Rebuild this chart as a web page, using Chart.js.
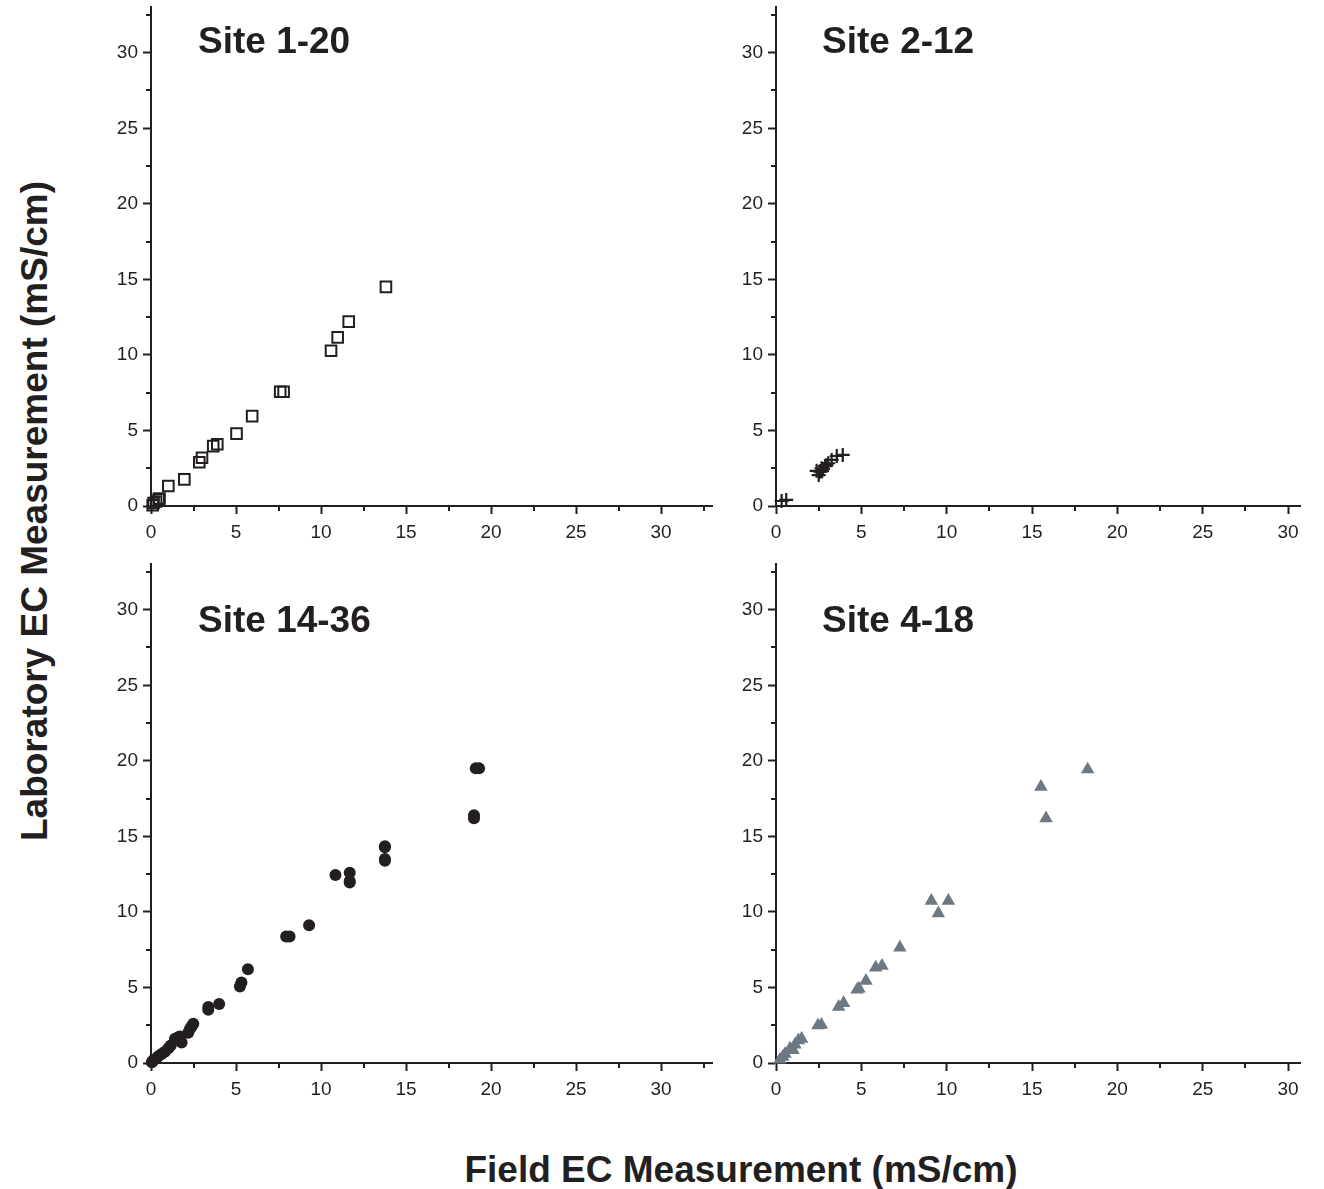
<!DOCTYPE html>
<html>
<head>
<meta charset="utf-8">
<script src="https://cdn.jsdelivr.net/npm/chart.js@4.4.1/dist/chart.umd.min.js"></script>
<style>
  html, body { margin: 0; padding: 0; background: #ffffff; }
  #wrap { position: relative; width: 1324px; height: 1189px; overflow: hidden; background: #fff; }
  canvas { position: absolute; }
  .lbl { position: absolute; font-family: "Liberation Sans", Arial, sans-serif; font-weight: bold; color: #231f20; white-space: nowrap; line-height: 37px; font-size: 37px; }
</style>
</head>
<body>
<div id="wrap">
  <canvas id="c1" width="640" height="569" style="left:90px;top:-9px;"></canvas>
  <canvas id="c2" width="609" height="569" style="left:715px;top:-9px;"></canvas>
  <canvas id="c3" width="640" height="568" style="left:90px;top:548px;"></canvas>
  <canvas id="c4" width="609" height="568" style="left:715px;top:548px;"></canvas>

  <div class="lbl" style="left:198px;top:22px;">Site 1-20</div>
  <div class="lbl" style="left:822px;top:22px;">Site 2-12</div>
  <div class="lbl" style="left:198px;top:601px;">Site 14-36</div>
  <div class="lbl" style="left:822px;top:601px;">Site 4-18</div>

  <div class="lbl" style="left:741px;top:1151px;transform:translateX(-50%);">Field EC Measurement (mS/cm)</div>
  <div class="lbl" style="left:34px;top:511px;transform:translate(-50%,-50%) rotate(-90deg);">Laboratory EC Measurement (mS/cm)</div>
</div>
<script>
// ---- Data ----
const site1_20_field = [0.1, 0.15, 0.3, 0.45, 0.5, 1.02, 1.96, 2.84, 3.0, 3.66, 3.9, 5.03, 5.95, 7.6, 7.8, 10.59, 10.98, 11.63, 13.82];
const site1_20_lab   = [0.05, 0.2, 0.3, 0.45, 0.5, 1.32, 1.76, 2.9, 3.19, 3.96, 4.09, 4.79, 5.95, 7.56, 7.56, 10.28, 11.16, 12.2, 14.5];

const site2_12_field = [0.33, 0.6, 2.38, 2.5, 2.58, 2.67, 2.7, 2.75, 2.87, 2.95, 3.06, 3.26, 3.56, 3.91];
const site2_12_lab   = [0.33, 0.4, 2.33, 2.05, 2.27, 2.5, 2.3, 2.45, 2.64, 2.7, 2.83, 3.05, 3.31, 3.38];

const site14_36_field = [19.1, 19.3, 19.0, 19.0, 13.76, 13.76, 13.76, 13.76, 10.85, 11.69, 11.69, 11.69, 9.3, 7.95, 8.15, 5.7, 5.23, 5.32, 4.01, 3.37, 3.37, 2.49, 2.39, 2.29, 2.19, 1.8, 1.7, 1.41, 1.6, 1.16, 1.02, 0.82, 0.62, 0.43, 0.3, 0.16, 0.08, 0.05];
const site14_36_lab   = [19.5, 19.5, 16.2, 16.4, 14.28, 14.35, 13.39, 13.5, 12.45, 12.6, 11.94, 12.05, 9.12, 8.37, 8.37, 6.21, 5.06, 5.33, 3.9, 3.52, 3.7, 2.6, 2.42, 2.25, 2.0, 1.36, 1.76, 1.6, 1.7, 1.16, 0.97, 0.75, 0.6, 0.44, 0.3, 0.22, 0.1, 0.05];

const site4_18_field = [18.26, 15.52, 15.82, 9.1, 10.1, 9.51, 7.26, 6.21, 5.84, 5.27, 4.86, 4.75, 3.96, 3.67, 2.66, 2.46, 1.5, 1.31, 1.11, 1.0, 0.82, 0.53, 0.4, 0.23];
const site4_18_lab   = [19.43, 18.28, 16.19, 10.73, 10.73, 9.91, 7.64, 6.43, 6.32, 5.44, 4.93, 4.85, 3.97, 3.72, 2.53, 2.49, 1.6, 1.5, 1.21, 0.85, 0.95, 0.6, 0.4, 0.22];

const majorTicks = [0, 5, 10, 15, 20, 25, 30];
const minorTicks = [2.5, 7.5, 12.5, 17.5, 22.5, 27.5, 32.5];

// ---- Styles ----
const INK = '#231f20';
const FONT = { family: '"Liberation Sans", Arial, sans-serif', size: 19 };

const minorTickPlugin = {
  id: 'minorTicks',
  afterDraw(chart) {
    const ctx = chart.ctx;
    const xs = chart.scales.x, ys = chart.scales.y;
    ctx.save();
    ctx.strokeStyle = INK;
    ctx.lineWidth = 2;
    ctx.beginPath();
    minorTicks.forEach(v => {
      if (v <= xs.max) {
        const px = Math.round(xs.getPixelForValue(v));
        ctx.moveTo(px, xs.top);
        ctx.lineTo(px, xs.top + 5);
      }
      if (v <= ys.max) {
        const py = Math.round(ys.getPixelForValue(v));
        ctx.moveTo(ys.right, py);
        ctx.lineTo(ys.right - 5, py);
      }
    });
    ctx.stroke();
    ctx.restore();
  }
};

function axis(isX, max, fitSize) {
  return {
    type: 'linear',
    min: 0,
    max: max,
    afterBuildTicks: s => { s.ticks = majorTicks.filter(v => v <= max).map(v => ({ value: v })); },
    ticks: {
      stepSize: 5,
      includeBounds: false,
      font: FONT,
      color: INK,
      padding: isX ? 7 : 5,
      maxRotation: 0,
      autoSkip: false
    },
    grid: {
      display: true,
      drawOnChartArea: false,
      drawTicks: true,
      tickLength: 8,
      tickWidth: 2,
      tickColor: INK
    },
    border: { display: true, color: INK, width: 2 },
    afterFit: s => { if (isX) s.height = fitSize; else s.width = fitSize; }
  };
}

function makeChart(id, xs, ys, style, xMax, padRight, xFit) {
  const pts = xs.map((x, i) => ({ x: x, y: ys[i] }));
  new Chart(document.getElementById(id), {
    type: 'scatter',
    data: {
      datasets: [Object.assign({ data: pts, clip: false }, style)]
    },
    options: {
      responsive: false,
      animation: false,
      events: [],
      layout: { padding: { top: 7, right: padRight, left: 0, bottom: 0 } },
      plugins: { legend: { display: false }, tooltip: { enabled: false }, title: { display: false } },
      scales: {
        x: axis(true, xMax, xFit),
        y: axis(false, 33, 61)
      }
    },
    plugins: [minorTickPlugin]
  });
}

makeChart('c1', site1_20_field, site1_20_lab, {
  pointStyle: 'rect', pointRadius: 7.5, backgroundColor: 'rgba(255,255,255,0)', borderColor: INK, borderWidth: 2
}, 33, 18, 54);

makeChart('c2', site2_12_field, site2_12_lab, {
  pointStyle: 'cross', pointRadius: 7, backgroundColor: INK, borderColor: INK, borderWidth: 2.2
}, 30.7, 24, 54);

makeChart('c3', site14_36_field, site14_36_lab, {
  pointStyle: 'circle', pointRadius: 6, backgroundColor: INK, borderColor: INK, borderWidth: 0
}, 33, 18, 53);

makeChart('c4', site4_18_field, site4_18_lab, {
  pointStyle: 'triangle', pointRadius: 7.8, backgroundColor: '#6d7883', borderColor: '#6d7883', borderWidth: 0
}, 30.7, 24, 53);
</script>
</body>
</html>
